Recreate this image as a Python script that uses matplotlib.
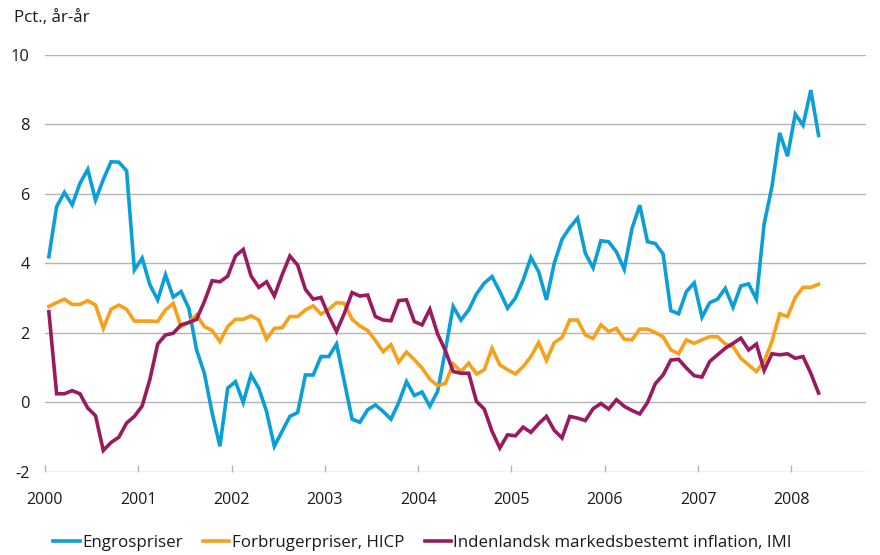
import matplotlib
matplotlib.use("Agg")
import matplotlib.pyplot as plt
import numpy as np

plt.rcParams['font.family'] = ['Open Sans', 'DejaVu Sans']
plt.rcParams['axes.unicode_minus'] = False

start_year = 2000
years = list(range(2000, 2009))
yticks = [-2, 0, 2, 4, 6, 8, 10]

engros = [4.19, 5.63, 6.04, 5.68, 6.30, 6.70, 5.82, 6.41, 6.92, 6.91,
          6.66, 3.81, 4.15, 3.38, 2.95, 3.67, 3.03, 3.19, 2.71, 1.51,
          0.84, -0.30, -1.26, 0.41, 0.60, 0.0, 0.79, 0.41, -0.26, -1.26,
          -0.83, -0.40, -0.29, 0.79, 0.79, 1.32, 1.32, 1.68, 0.6, -0.48,
          -0.57, -0.21, -0.07, -0.26, -0.48, 0.0, 0.60, 0.20, 0.30, -0.11,
          0.32, 1.5, 2.76, 2.37, 2.66, 3.12, 3.43, 3.62, 3.19, 2.71,
          3.0, 3.52, 4.17, 3.76, 2.95, 4.0, 4.69, 5.03, 5.3, 4.29,
          3.87, 4.65, 4.62, 4.33, 3.83, 5.0, 5.67, 4.62, 4.57, 4.27,
          2.64, 2.55, 3.19, 3.44, 2.45, 2.87, 2.97, 3.28, 2.74, 3.35,
          3.41, 2.97, 5.14, 6.2, 7.75, 7.08, 8.29, 7.97, 8.98, 7.68]

hicp = [2.76, 2.87, 2.97, 2.82, 2.82, 2.93, 2.80, 2.13, 2.68, 2.80,
        2.68, 2.34, 2.34, 2.34, 2.33, 2.66, 2.85, 2.18, 2.30, 2.52,
        2.18, 2.07, 1.75, 2.18, 2.39, 2.39, 2.49, 2.37, 1.82, 2.13,
        2.15, 2.47, 2.47, 2.66, 2.78, 2.54, 2.68, 2.87, 2.85, 2.39,
        2.20, 2.07, 1.78, 1.46, 1.66, 1.16, 1.45, 1.23, 0.99, 0.67,
        0.48, 0.55, 1.11, 0.89, 1.13, 0.82, 0.94, 1.56, 1.08, 0.94,
        0.82, 1.03, 1.32, 1.72, 1.21, 1.72, 1.87, 2.37, 2.37, 1.94,
        1.84, 2.23, 2.04, 2.13, 1.82, 1.80, 2.11, 2.11, 2.01, 1.89,
        1.51, 1.40, 1.80, 1.70, 1.80, 1.89, 1.89, 1.68, 1.61, 1.27,
        1.08, 0.89, 1.18, 1.75, 2.55, 2.47, 3.02, 3.31, 3.31, 3.40]

imi = [2.61, 0.25, 0.25, 0.34, 0.25, -0.16, -0.38, -1.38, -1.15, -1.0,
       -0.59, -0.40, -0.10, 0.67, 1.68, 1.94, 1.99, 2.23, 2.30, 2.39,
       2.90, 3.50, 3.47, 3.63, 4.21, 4.40, 3.64, 3.31, 3.47, 3.06,
       3.67, 4.21, 3.95, 3.25, 2.97, 3.02, 2.49, 2.04, 2.56, 3.16,
       3.06, 3.09, 2.47, 2.37, 2.35, 2.93, 2.95, 2.33, 2.23, 2.68,
       1.97, 1.49, 0.89, 0.84, 0.84, 0.03, -0.19, -0.83, -1.31, -0.93,
       -0.96, -0.71, -0.86, -0.61, -0.40, -0.80, -1.02, -0.40, -0.45, -0.52,
       -0.18, -0.03, -0.19, 0.08, -0.11, -0.23, -0.33, 0.0, 0.54, 0.79,
       1.22, 1.24, 0.99, 0.77, 0.73, 1.18, 1.37, 1.56, 1.70, 1.85,
       1.51, 1.68, 0.92, 1.40, 1.37, 1.40, 1.27, 1.32, 0.84, 0.27]

labels = ["Engrospriser", "Forbrugerpriser, HICP",
          "Indenlandsk markedsbestemt inflation, IMI"]
colors = ["#0a9fd8", "#f7a11a", "#9b1a5f"]

x = start_year + (np.arange(len(engros)) + 0.5) / 12.0

fig = plt.figure(figsize=(8.8, 5.55), dpi=100)
ax = fig.add_axes([0.0511, 0.1495, 0.933, 0.752])

grid_c = "#b4b4b4"
for yv in yticks:
    ax.axhline(yv, color=grid_c, lw=1.0, zorder=1)

for series, lab, c in zip([engros, hicp, imi], labels, colors):
    ax.plot(x, series, color=c, lw=2.6, label=lab, zorder=3,
            solid_joinstyle='miter')

ax.set_xlim(2000, 2008.8)
ax.set_ylim(-2, 10)
for s in ax.spines.values():
    s.set_visible(False)

ax.set_xticks(years)
ax.set_xticklabels([str(y) for y in years])
ax.tick_params(axis='x', direction='in', length=5, width=1, color=grid_c,
               pad=14.5, labelsize=11.5, labelcolor='#1a1a1a')
ax.set_yticks(yticks)
ax.tick_params(axis='y', length=0, pad=11, labelsize=11.8, labelcolor='#1a1a1a')

fig.text(0.016, 0.968, "Pct., år-år", fontsize=12.2, color='#1a1a1a',
         ha='left', va='center')

leg = fig.legend(loc='center left', bbox_to_anchor=(0.0606, 0.0216), ncol=3,
                 frameon=False, fontsize=12.2, handlelength=1.55,
                 handletextpad=0.15, columnspacing=1.2, borderpad=0,
                 borderaxespad=0)
for t in leg.get_texts():
    t.set_color('#1a1a1a')

fig.savefig("out.png", dpi=100)
